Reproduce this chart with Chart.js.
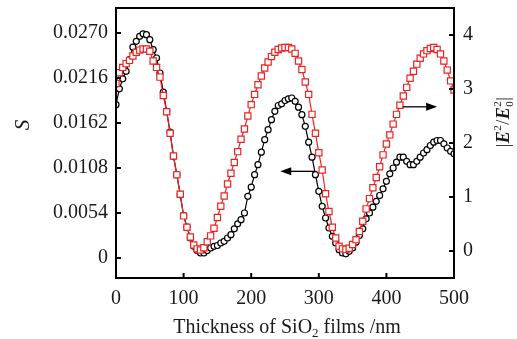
<!DOCTYPE html>
<html>
<head>
<meta charset="utf-8">
<script src="https://cdn.jsdelivr.net/npm/chart.js@4.4.1/dist/chart.umd.min.js"></script>
<style>
  html, body { margin: 0; padding: 0; background: #fff; }
  #wrap { width: 517px; height: 339px; }
</style>
</head>
<body>
<div id="wrap"><canvas id="chart" width="517" height="339"></canvas></div>
<script>
// film thickness (nm)
const thickness = [
  0, 5, 10, 15, 20, 25, 30, 35, 40, 45,
  50, 55, 60, 65, 70, 75, 80, 85, 90, 95,
  100, 105, 110, 115, 120, 125, 130, 135, 140, 145,
  150, 155, 160, 165, 170, 175, 180, 185, 190, 195,
  200, 205, 210, 215, 220, 225, 230, 235, 240, 245,
  250, 255, 260, 265, 270, 275, 280, 285, 290, 295,
  300, 305, 310, 315, 320, 325, 330, 335, 340, 345,
  350, 355, 360, 365, 370, 375, 380, 385, 390, 395,
  400, 405, 410, 415, 420, 425, 430, 435, 440, 445,
  450, 455, 460, 465, 470, 475, 480, 485, 490, 495,
  500
];

// S, left axis (black circles)
const sValues = [
  0.0184, 0.0203, 0.0215, 0.0224, 0.0238, 0.0253, 0.0260, 0.0266, 0.0269, 0.0268,
  0.0262, 0.0250, 0.0240, 0.0222, 0.0199, 0.0176, 0.0151, 0.0122, 0.0100, 0.0076,
  0.0051, 0.0037, 0.0024, 0.0014, 0.0009, 0.0006, 0.0006, 0.0009, 0.0012, 0.0014,
  0.0015, 0.0018, 0.0020, 0.0024, 0.0028, 0.0035, 0.0041, 0.0046, 0.0054, 0.0074,
  0.0085, 0.0100, 0.0112, 0.0127, 0.0142, 0.0154, 0.0166, 0.0176, 0.0183, 0.0185,
  0.0189, 0.0191, 0.0192, 0.0188, 0.0181, 0.0172, 0.0158, 0.0139, 0.0121, 0.0100,
  0.0080, 0.0062, 0.0048, 0.0036, 0.0026, 0.0018, 0.0010, 0.0006, 0.0005, 0.0008,
  0.0012, 0.0019, 0.0027, 0.0035, 0.0047, 0.0054, 0.0061, 0.0068, 0.0075, 0.0083,
  0.0092, 0.0101, 0.0108, 0.0115, 0.0121, 0.0121, 0.0116, 0.0112, 0.0112, 0.0116,
  0.0121, 0.0126, 0.0130, 0.0135, 0.0139, 0.0141, 0.0141, 0.0137, 0.0132, 0.0128,
  0.0125
];

// |E^2/E0^2|, right axis (red squares)
const eValues = [
  3.10, 3.30, 3.40, 3.47, 3.53, 3.61, 3.68, 3.72, 3.74, 3.74,
  3.70, 3.52, 3.40, 3.22, 2.88, 2.58, 2.18, 1.76, 1.41, 1.05,
  0.65, 0.44, 0.26, 0.11, 0.04, 0.02, 0.06, 0.17, 0.28, 0.42,
  0.62, 0.83, 1.02, 1.24, 1.44, 1.64, 1.84, 2.07, 2.26, 2.50,
  2.71, 2.90, 3.08, 3.24, 3.39, 3.50, 3.60, 3.68, 3.73, 3.76,
  3.77, 3.77, 3.74, 3.66, 3.52, 3.36, 3.13, 2.90, 2.53, 2.18,
  1.82, 1.50, 1.06, 0.73, 0.44, 0.24, 0.09, 0.04, 0.03, 0.05,
  0.12, 0.21, 0.36, 0.55, 0.78, 0.97, 1.17, 1.36, 1.56, 1.78,
  1.98, 2.15, 2.35, 2.53, 2.70, 2.87, 3.03, 3.20, 3.33, 3.46,
  3.57, 3.65, 3.71, 3.75, 3.77, 3.73, 3.65, 3.52, 3.35, 3.15,
  2.98
];

const xTicks = [0, 100, 200, 300, 400, 500];
const sTicks = [0, 0.0054, 0.0108, 0.0162, 0.0216, 0.0270];
const sTickLabels = ["0", "0.0054", "0.0108", "0.0162", "0.0216", "0.0270"];
const eTicks = [0, 1, 2, 3, 4];

// arrows telling which axis each curve belongs to (data coords)
const arrows = [
  { axis: "yS", x1: 294, x2: 243, y: 0.0104 },
  { axis: "yE", x1: 424, x2: 475, y: 2.67 }
];

const FONT = "'Liberation Serif', 'Times New Roman', serif";
const INK = "#1a1a1a";
const RED = "#ee2222";

function line(ctx, x1, y1, x2, y2) {
  ctx.beginPath();
  ctx.moveTo(x1, y1);
  ctx.lineTo(x2, y2);
  ctx.stroke();
}

// no extra room for half-height end labels
function noPad(s) {
  s.paddingTop = 0;
  s.paddingBottom = 0;
  s.paddingLeft = 0;
  s.paddingRight = 0;
}

const decorations = {
  id: "decorations",
  afterDraw(chart) {
    const { ctx, chartArea: a, scales } = chart;
    ctx.save();

    // frame
    ctx.strokeStyle = "#000";
    ctx.lineWidth = 2;
    ctx.strokeRect(a.left, a.top, a.right - a.left, a.bottom - a.top);

    // inward tick marks
    const tl = 5;
    xTicks.forEach(v => {
      const px = scales.x.getPixelForValue(v);
      line(ctx, px, a.bottom, px, a.bottom - tl);
    });
    sTicks.forEach(v => {
      const py = scales.yS.getPixelForValue(v);
      line(ctx, a.left, py, a.left + tl, py);
    });
    eTicks.forEach(v => {
      const py = scales.yE.getPixelForValue(v);
      line(ctx, a.right, py, a.right - tl, py);
    });

    // arrows
    ctx.lineWidth = 1.3;
    ctx.fillStyle = "#000";
    arrows.forEach(ar => {
      const x1 = scales.x.getPixelForValue(ar.x1);
      const x2 = scales.x.getPixelForValue(ar.x2);
      const y = scales[ar.axis].getPixelForValue(ar.y);
      const dir = Math.sign(x2 - x1);
      line(ctx, x1, y, x2 - dir * 8, y);
      ctx.beginPath();
      ctx.moveTo(x2, y);
      ctx.lineTo(x2 - dir * 11, y - 4);
      ctx.lineTo(x2 - dir * 11, y + 4);
      ctx.closePath();
      ctx.fill();
    });

    ctx.fillStyle = INK;
    ctx.textBaseline = "alphabetic";

    // x title with subscript
    const xt = [
      { t: "Thickness of SiO", f: "20px " + FONT, dy: 0 },
      { t: "2", f: "13px " + FONT, dy: 4 },
      { t: " films /nm", f: "20px " + FONT, dy: 0 }
    ];
    let w = 0;
    xt.forEach(p => { ctx.font = p.f; p.w = ctx.measureText(p.t).width; w += p.w; });
    let cx = (a.left + a.right) / 2 + 2 - w / 2;
    xt.forEach(p => {
      ctx.font = p.f;
      ctx.textAlign = "left";
      ctx.fillText(p.t, cx, 333 + p.dy);
      cx += p.w;
    });

    // left title S
    ctx.save();
    ctx.translate(29, 125);
    ctx.rotate(-Math.PI / 2);
    ctx.font = "italic 21px " + FONT;
    ctx.textAlign = "center";
    ctx.fillText("S", 0, 0);
    ctx.restore();

    // right title |E^2/E0^2|
    ctx.save();
    ctx.translate(509, 122);
    ctx.rotate(-Math.PI / 2);
    const big = "18px " + FONT;
    const bold = "italic bold 18px " + FONT;
    const small = "11px " + FONT;
    const parts = [
      { t: "|", f: big, dy: 0 },
      { t: "E", f: bold, dy: 0 },
      { t: "2", f: small, dy: -8 },
      { t: "/", f: big, dy: 0 },
      { t: "E", f: bold, dy: 0 },
      { t: "2", f: small, dy: -8, stack: "0" },
      { t: "|", f: big, dy: 0 }
    ];
    let tw = 0;
    parts.forEach(p => { ctx.font = p.f; p.w = ctx.measureText(p.t).width + 0.5; tw += p.w; });
    let px = -tw / 2;
    ctx.textAlign = "left";
    parts.forEach(p => {
      ctx.font = p.f;
      ctx.fillText(p.t, px, p.dy);
      if (p.stack) ctx.fillText(p.stack, px, 4);
      px += p.w;
    });
    ctx.restore();

    ctx.restore();
  }
};

new Chart(document.getElementById("chart"), {
  type: "line",
  data: {
    datasets: [
      {
        label: "|E2/E02|",
        data: thickness.map((t, i) => ({ x: t, y: eValues[i] })),
        yAxisID: "yE",
        borderColor: RED,
        borderWidth: 1.2,
        pointStyle: "rect",
        pointRadius: 4.4,
        pointBorderWidth: 1.2,
        pointBorderColor: RED,
        pointBackgroundColor: "#fff",
        tension: 0,
        fill: false
      },
      {
        label: "S",
        data: thickness.map((t, i) => ({ x: t, y: sValues[i] })),
        yAxisID: "yS",
        borderColor: "#000",
        borderWidth: 1.2,
        pointStyle: "circle",
        pointRadius: 3,
        pointBorderWidth: 1.2,
        pointBorderColor: "#000",
        pointBackgroundColor: "#fff",
        tension: 0,
        fill: false
      }
    ]
  },
  options: {
    responsive: false,
    animation: false,
    layout: { padding: { top: 8, left: 0, right: 0, bottom: 0 } },
    plugins: { legend: { display: false }, tooltip: { enabled: false } },
    scales: {
      x: {
        type: "linear",
        min: 0,
        max: 500,
        afterFit: s => { s.height = 61; noPad(s); },
        afterBuildTicks: s => { s.ticks = xTicks.map(v => ({ value: v })); },
        grid: { display: false, drawTicks: false },
        border: { display: false },
        ticks: { autoSkip: false, padding: 9, color: INK, font: { family: FONT, size: 20 }, maxRotation: 0 }
      },
      yS: {
        type: "linear",
        position: "left",
        min: -0.0024,
        max: 0.0300,
        afterFit: s => { s.width = 116; noPad(s); },
        afterBuildTicks: s => { s.ticks = sTicks.map(v => ({ value: v })); },
        grid: { display: false, drawTicks: false },
        border: { display: false },
        ticks: {
          autoSkip: false,
          padding: 8,
          color: INK,
          font: { family: FONT, size: 20 },
          callback: (v, i) => sTickLabels[i]
        }
      },
      yE: {
        type: "linear",
        position: "right",
        min: -0.5,
        max: 4.5,
        afterFit: s => { s.width = 63; noPad(s); },
        afterBuildTicks: s => { s.ticks = eTicks.map(v => ({ value: v })); },
        grid: { display: false, drawTicks: false },
        border: { display: false },
        ticks: { autoSkip: false, padding: 9, color: INK, font: { family: FONT, size: 20 } }
      }
    }
  },
  plugins: [decorations]
});
</script>
</body>
</html>
